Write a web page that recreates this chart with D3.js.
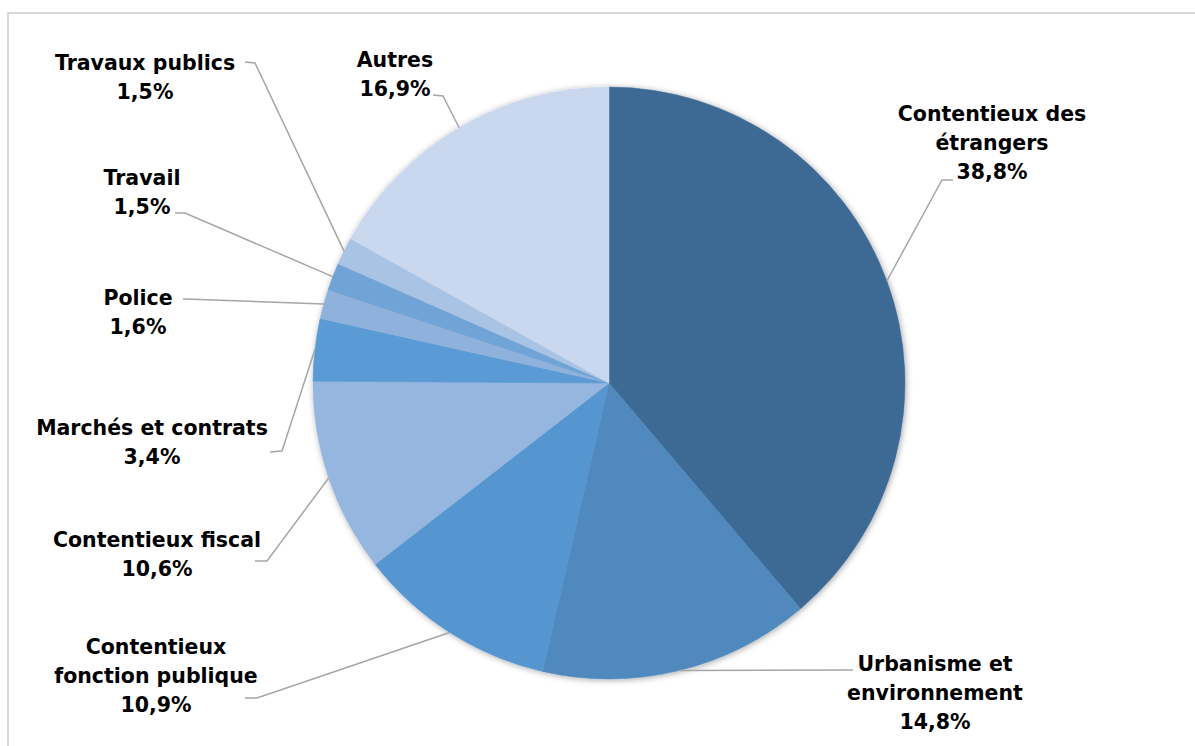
<!DOCTYPE html>
<html>
<head>
<meta charset="utf-8">
<script src="https://cdn.jsdelivr.net/npm/d3@7"></script>
<style>
  body { margin: 0; background: #fff; }
  text { font-family: "DejaVu Sans", sans-serif; font-weight: bold; fill: #000; }
</style>
</head>
<body>
<div id="chart"></div>
<script>
const categories = ["Contentieux des étrangers", "Urbanisme et environnement", "Contentieux fonction publique",
  "Contentieux fiscal", "Marchés et contrats", "Police", "Travail", "Travaux publics", "Autres"];
const shares = [38.8, 14.8, 10.9, 10.6, 3.4, 1.6, 1.5, 1.5, 16.9];
const labelLines = [["Contentieux des", "étrangers"], ["Urbanisme et", "environnement"], ["Contentieux", "fonction publique"],
  ["Contentieux fiscal"], ["Marchés et contrats"], ["Police"], ["Travail"], ["Travaux publics"], ["Autres"]];
const colors = ["#3e6a95", "#4f89bd", "#5796d0", "#95b6de", "#5a9ad5", "#8fb2dd", "#6fa3d6", "#a9c3e5", "#c9d8ee"];

// label layout: text centre x, first baseline y, elbow of leader [x1,y1,x2,y2]
const layout = [
  { x: 992, y: 121, elbow: [942, 180, 953, 180] },
  { x: 935, y: 671, elbow: [853, 670, 853, 670] },
  { x: 156, y: 654, elbow: [257, 698, 245, 698] },
  { x: 157, y: 547, elbow: [267, 561, 255, 561] },
  { x: 152, y: 435, elbow: [282, 451, 270, 452] },
  { x: 138, y: 305, elbow: [185, 299, 183, 299] },
  { x: 142, y: 185, elbow: [185, 213, 175, 213] },
  { x: 145, y: 70, elbow: [255, 63, 245, 62] },
  { x: 395, y: 67, elbow: [443, 96, 433, 95] }
];

const width = 1195, height = 746,
  cx = 609, cy = 383, radius = 296, lineH = 29;

const svg = d3.select("#chart").append("svg")
  .attr("width", width)
  .attr("height", height);

const defs = svg.append("defs");
const f = defs.append("filter").attr("id", "shadow")
  .attr("x", "-10%").attr("y", "-10%").attr("width", "120%").attr("height", "120%");
f.append("feDropShadow").attr("dx", 1).attr("dy", 1).attr("stdDeviation", 3)
  .attr("flood-color", "#000").attr("flood-opacity", 0.35);

// chart frame
svg.append("rect")
  .attr("x", 8).attr("y", 13)
  .attr("width", width).attr("height", height)
  .attr("fill", "none")
  .attr("stroke", "#d9d9d9")
  .attr("stroke-width", 2);

const data = categories.map((c, i) => ({ name: c, value: shares[i], i: i }));

const pie = d3.pie().sort(null).value(d => d.value);
const arc = d3.arc().innerRadius(0).outerRadius(radius);
const arcs = pie(data);

const g = svg.append("g").attr("transform", `translate(${cx},${cy})`);

g.append("g").attr("filter", "url(#shadow)")
  .selectAll("path")
  .data(arcs)
  .enter()
  .append("path")
  .attr("d", arc)
  .attr("fill", d => colors[d.data.i])
  .attr("stroke", d => colors[d.data.i])
  .attr("stroke-width", 0.5);

// leader lines + labels
const fmt = v => d3.format(".1f")(v).replace(".", ",") + "%";

arcs.forEach(d => {
  const a = (d.startAngle + d.endAngle) / 2;
  const px = cx + radius * Math.sin(a), py = cy - radius * Math.cos(a);
  const L = layout[d.data.i];
  svg.append("polyline")
    .attr("points", [[px, py], [L.elbow[0], L.elbow[1]], [L.elbow[2], L.elbow[3]]].map(p => p.join(",")).join(" "))
    .attr("fill", "none")
    .attr("stroke", "#a6a6a6")
    .attr("stroke-width", 1.5);

  const lines = labelLines[d.data.i].concat([fmt(d.data.value)]);
  const t = svg.append("text")
    .attr("text-anchor", "middle")
    .style("font-size", "20.5px");
  lines.forEach((s, k) => {
    t.append("tspan").attr("x", L.x).attr("y", L.y + k * lineH).text(s);
  });
});
</script>
</body>
</html>
